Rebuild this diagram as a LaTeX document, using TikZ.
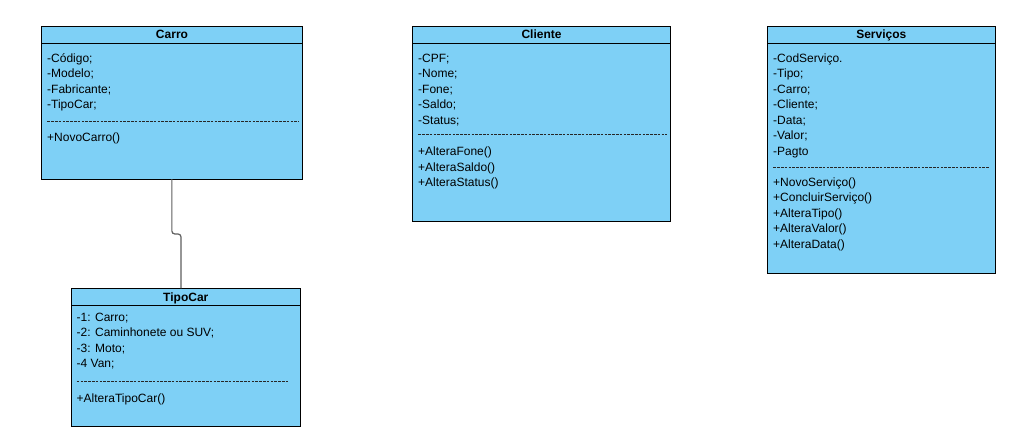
\documentclass[tikz,border=0pt]{standalone}
\usepackage{fontspec}
\setmainfont{Liberation Sans}
\usetikzlibrary{calc}
\definecolor{umlfill}{RGB}{126,208,246}
\definecolor{linkgray}{RGB}{95,95,95}
\begin{document}
\begin{tikzpicture}[x=1pt,y=-1pt,
  classbox/.style={draw=black,fill=umlfill,line width=0.9pt,anchor=north west,inner sep=0pt,outer sep=0pt},
  headline/.style={draw=black,line width=0.9pt},
  sepline/.style={draw=black!85,line width=0.55pt,dash pattern=on 2.6pt off 1.2pt},
  cname/.style={anchor=base,inner sep=0pt,font=\fontsize{12}{14}\selectfont\bfseries},
  item/.style={anchor=base west,inner sep=0pt,font=\fontsize{12}{14}\selectfont},
  link/.style={draw=linkgray,line width=1.2pt,rounded corners=3pt}]
\fill[white] (0,0) rectangle (1036,437);
\useasboundingbox (0,0) rectangle (1036,437);

% ---------- Carro ----------
\node[classbox,minimum width=261.7pt,minimum height=152.3pt] (carro) at (41,26.7) {};
\draw[headline] ([yshift=-16.6pt]carro.north west) -- ([yshift=-16.6pt]carro.north east);
\node[cname] (carroT) at (172,38) {Carro};
\node[item] (c1) at (47,62.2) {-Código;};
\node[item] (c2) at (47,77.7) {-Modelo;};
\node[item] (c3) at (47,93.2) {-Fabricante;};
\node[item] (c4) at (47,108.7) {-TipoCar;};
\draw[sepline] (47.3,121) -- (299.3,121);
\node[item] (c5) at (47,141.2) {+NovoCarro()};

% ---------- Cliente ----------
\node[classbox,minimum width=258.4pt,minimum height=194.3pt] (cliente) at (412.3,26.7) {};
\draw[headline] ([yshift=-16.6pt]cliente.north west) -- ([yshift=-16.6pt]cliente.north east);
\node[cname] (clienteT) at (541.5,38) {Cliente};
\node[item] (l1) at (418,62.2) {-CPF;};
\node[item] (l2) at (418,77.7) {-Nome;};
\node[item] (l3) at (418,93.2) {-Fone;};
\node[item] (l4) at (418,108.7) {-Saldo;};
\node[item] (l5) at (418,124.2) {-Status;};
\draw[sepline] (418.3,134) -- (666.7,134);
\node[item] (l6) at (418,155.5) {+AlteraFone()};
\node[item] (l7) at (418,171) {+AlteraSaldo()};
\node[item] (l8) at (418,186.5) {+AlteraStatus()};

% ---------- Servicos ----------
\node[classbox,minimum width=228pt,minimum height=246.6pt] (servicos) at (767.3,26.7) {};
\draw[headline] ([yshift=-16.6pt]servicos.north west) -- ([yshift=-16.6pt]servicos.north east);
\node[cname] (servicosT) at (881.3,38) {Serviços};
\node[item] (s1) at (773,62.2) {-CodServiço.};
\node[item] (s2) at (773,77.7) {-Tipo;};
\node[item] (s3) at (773,93.2) {-Carro;};
\node[item] (s4) at (773,108.7) {-Cliente;};
\node[item] (s5) at (773,124.2) {-Data;};
\node[item] (s6) at (773,139.7) {-Valor;};
\node[item] (s7) at (773,155.2) {-Pagto};
\draw[sepline] (773.3,167.3) -- (989.3,167.3);
\node[item] (s8) at (773,186.2) {+NovoServiço()};
\node[item] (s9) at (773,201.7) {+ConcluirServiço()};
\node[item] (s10) at (773,217.2) {+AlteraTipo()};
\node[item] (s11) at (773,232.7) {+AlteraValor()};
\node[item] (s12) at (773,248.2) {+AlteraData()};

% ---------- TipoCar ----------
\node[classbox,minimum width=229.7pt,minimum height=138.4pt] (tipocar) at (71,288.3) {};
\draw[headline] ([yshift=-16.7pt]tipocar.north west) -- ([yshift=-16.7pt]tipocar.north east);
\node[cname] (tipocarT) at (185.8,301.2) {TipoCar};
\node[item] (t1) at (76.5,321.2) {-1: Carro;};
\node[item] (t2) at (76.5,336.7) {-2: Caminhonete ou SUV;};
\node[item] (t3) at (76.5,352.2) {-3: Moto;};
\node[item] (t4) at (76.5,367.7) {-4 Van;};
\draw[sepline] (76.7,381) -- (288.3,381);
\node[item] (t5) at (76.5,402.2) {+AlteraTipoCar()};

% ---------- connector ----------
\coordinate (tin) at ([xshift=-4.8pt]tipocar.north);
\draw[link] (carro.south) -- ++(0,55) -| (tin);
\end{tikzpicture}
\end{document}
